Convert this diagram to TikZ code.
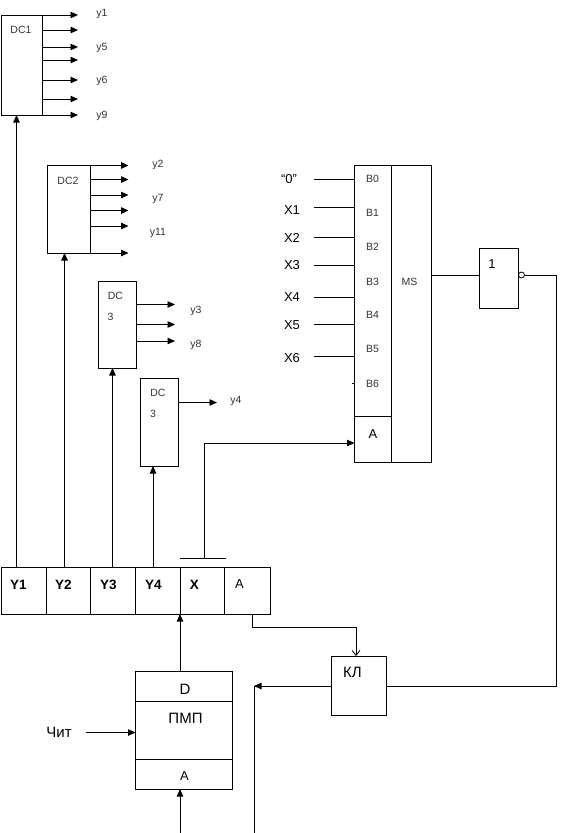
\documentclass[tikz,border=0pt]{standalone}
\usepackage{fontspec}
\setmainfont{Liberation Sans}
\usetikzlibrary{arrows.meta}
\tikzset{
  x=1pt,y=-1pt,
  box/.style={draw,rectangle,inner sep=0pt,outer sep=0pt},
  wire/.style={draw},
  arr/.style={wire,-{Triangle[length=7.5pt,width=6.5pt]}},
  openarr/.style={wire,-{Straight Barb[length=5pt,width=8pt]}},
  small/.style={inner sep=0pt,font=\fontsize{10.5}{12}\selectfont,text=black!80},
  big/.style={inner sep=0pt,font=\fontsize{13}{15}\selectfont},
  cyr/.style={inner sep=0pt,font=\fontsize{15}{17}\selectfont},
  reg/.style={inner sep=0pt,font=\fontsize{13.5}{15}\selectfont\bfseries},
}
\newcommand{\bx}[5]{\node[box,minimum width=#4-#2,minimum height=#5-#3,anchor=north west] (#1) at (#2,#3) {};}
\begin{document}
\begin{tikzpicture}[line width=0.8pt]
\useasboundingbox (0,0) rectangle (569,833);
% DC1
\bx{dc1}{1.5}{15}{42.5}{115}
\node[small] (dc1t) at (21,29.5) {DC1};
\foreach \n/\yy in {a/15,b/30,c/47,d/60,e/80,f/99,g/115}{
  \coordinate (o1\n) at (78,\yy);
  \draw[arr] (dc1.east |- o1\n) -- (o1\n);
}
\node[small] (ly1) at (102,14) {y1};
\node[small] (ly5) at (102,47.5) {y5};
\node[small] (ly6) at (102,81) {y6};
\node[small] (ly9) at (102,115.5) {y9};
% DC2
\bx{dc2}{47.5}{165.5}{90.5}{253}
\node[small] (dc2t) at (68,180.5) {DC2};
\foreach \n/\yy in {a/165.5,b/179.5,c/195,d/210.5,e/226,f/253}{
  \coordinate (o2\n) at (128.5,\yy);
  \draw[arr] (dc2.east |- o2\n) -- (o2\n);
}
\node[small] (ly2) at (158,164.5) {y2};
\node[small] (ly7) at (158,199) {y7};
\node[small] (ly11) at (158,232.5) {y11};
% DC3 a
\bx{dc3}{98}{281.5}{136.5}{368}
\node[small] (dc3t) at (115.5,296) {DC};
\node[small] (dc3n) at (110.5,316.5) {3};
\foreach \n/\yy in {a/304.5,b/324.5,c/341}{
  \coordinate (o3\n) at (175,\yy);
  \draw[arr] (dc3.east |- o3\n) -- (o3\n);
}
\node[small] (ly3) at (196,311) {y3};
\node[small] (ly8) at (196,345) {y8};
% DC3 b
\bx{dc4}{140}{378.5}{178}{466}
\node[small] (dc4t) at (158,393) {DC};
\node[small] (dc4n) at (153,414) {3};
\coordinate (o4a) at (217,402.5);
\draw[arr] (dc4.east |- o4a) -- (o4a);
\node[small] (ly4) at (236,401) {y4};
% MS
\bx{msl}{354.5}{165.5}{391}{416}
\bx{msa}{354.5}{416}{391}{462.5}
\bx{msr}{391}{165.5}{431}{462.5}
\node[small] (msb0) at (372.5,179) {B0};
\node[small] (msb1) at (372.5,213) {B1};
\node[small] (msb2) at (372.5,247) {B2};
\node[small] (msb3) at (372.5,282) {B3};
\node[small] (msb4) at (372.5,315) {B4};
\node[small] (msb5) at (372.5,349) {B5};
\node[small] (msb6) at (372.5,384) {B6};
\node[small] (mst) at (409.5,282) {MS};
\node[big] (msat) at (373,434) {A};
% inputs of MS
\node[big] (l0) at (289,179) {“0”};
\node[big] (lx1) at (292,210) {X1};
\begin{scope}\clip (270,225) rectangle (320,241.5);
\node[big] (lx2) at (292,238) {X2};\end{scope}
\begin{scope}\clip (270,255) rectangle (320,269);
\node[big] (lx3) at (292,265) {X3};\end{scope}
\node[big] (lx4) at (292,297) {X4};
\begin{scope}\clip (270,315) rectangle (320,328.5);
\node[big] (lx5) at (292,325) {X5};\end{scope}
\begin{scope}\clip (270,348) rectangle (320,361);
\node[big] (lx6) at (292,358) {X6};\end{scope}
\foreach \n/\yy in {a/179,b/207,c/237,d/265,e/297,f/324,g/356}{
  \coordinate (i\n) at (314,\yy);
  \draw[wire] (i\n) -- (msl.west |- i\n);
}
\coordinate (i6) at (352,383.5);
\draw[wire] (i6) -- (msl.west |- i6);
% gate
\bx{gate}{479.5}{248}{518.5}{308}
\node[big] (gatet) at (492,264) {1};
\coordinate (gin) at (479.5,275);
\draw[wire] (msr.east |- gin) -- (gate.west |- gin);
\node[draw,circle,minimum size=6pt,inner sep=0pt,outer sep=0pt,anchor=west] (bub) at (gate.east |- gin) {};
% KL
\bx{kl}{331.5}{656}{386.5}{715}
\node[cyr] (klt) at (352.5,672.5) {КЛ};
\coordinate (c1) at (556,275);
\coordinate (c2) at (556,686);
\draw[wire] (bub.east) -- (c1) -- (c2) -- (kl.east |- c2);
\coordinate (kljoin) at (254,686);
\coordinate (klbot) at (254,833);
\draw[arr] (kl.west |- c2) -- (kljoin);
\draw[wire] (kljoin) -- (klbot);
% register
\bx{ry1}{1.5}{567.5}{46}{614}
\bx{ry2}{46}{567.5}{90.5}{614}
\bx{ry3}{90.5}{567.5}{135.5}{614}
\bx{ry4}{135.5}{567.5}{180}{614}
\bx{rx}{180}{567.5}{224.5}{614}
\bx{ra}{224.5}{567.5}{270}{614}
\node[reg] (ry1t) at (18.5,584.5) {Y1};
\node[reg] (ry2t) at (63.5,584.5) {Y2};
\node[reg] (ry3t) at (108.5,584.5) {Y3};
\node[reg] (ry4t) at (153.5,584.5) {Y4};
\node[reg] (rxt) at (194.5,584.5) {X};
\node[big] (rat) at (239.5,584.5) {A};
% register to decoders
\coordinate (p1) at (16.5,567.5);
\coordinate (p2) at (64.5,567.5);
\coordinate (p3) at (112.5,567.5);
\coordinate (p4) at (153,567.5);
\draw[arr] (p1) -- (p1 |- dc1.south);
\draw[arr] (p2) -- (p2 |- dc2.south);
\draw[arr] (p3) -- (p3 |- dc3.south);
\draw[arr] (p4) -- (p4 |- dc4.south);
% X tee to MS A
\coordinate (tl) at (180,558.5);
\coordinate (tr) at (226,558.5);
\coordinate (tm) at (204,558.5);
\coordinate (tc) at (204,443);
\draw[wire] (tl) -- (tr);
\draw[arr] (tm) -- (tc) -- (msa.west |- tc);
% A to KL
\coordinate (a0) at (252.5,614);
\coordinate (a1) at (252.5,627);
\coordinate (a2) at (356,627);
\draw[openarr] (a0) -- (a1) -- (a2) -- (a2 |- kl.north);
% PMP
\bx{pd}{135.5}{671}{232.5}{701}
\bx{pm}{135.5}{701}{232.5}{759}
\bx{pa}{135.5}{759}{232.5}{789}
\node[cyr] (pdt) at (185,689.5) {D};
\node[cyr] (pmt) at (185.5,718.5) {ПМП};
\node[big] (pat) at (184.5,776.5) {A};
\coordinate (pin) at (180,671);
\coordinate (pbot) at (180,833);
\draw[arr] (pin) -- (pin |- rx.south);
\draw[arr] (pbot) -- (pin |- pa.south);
\node[cyr] (chit) at (59,732.5) {Чит};
\coordinate (chin) at (86,732.5);
\draw[arr] (chin) -- (pm.west |- chin);
\end{tikzpicture}
\end{document}
